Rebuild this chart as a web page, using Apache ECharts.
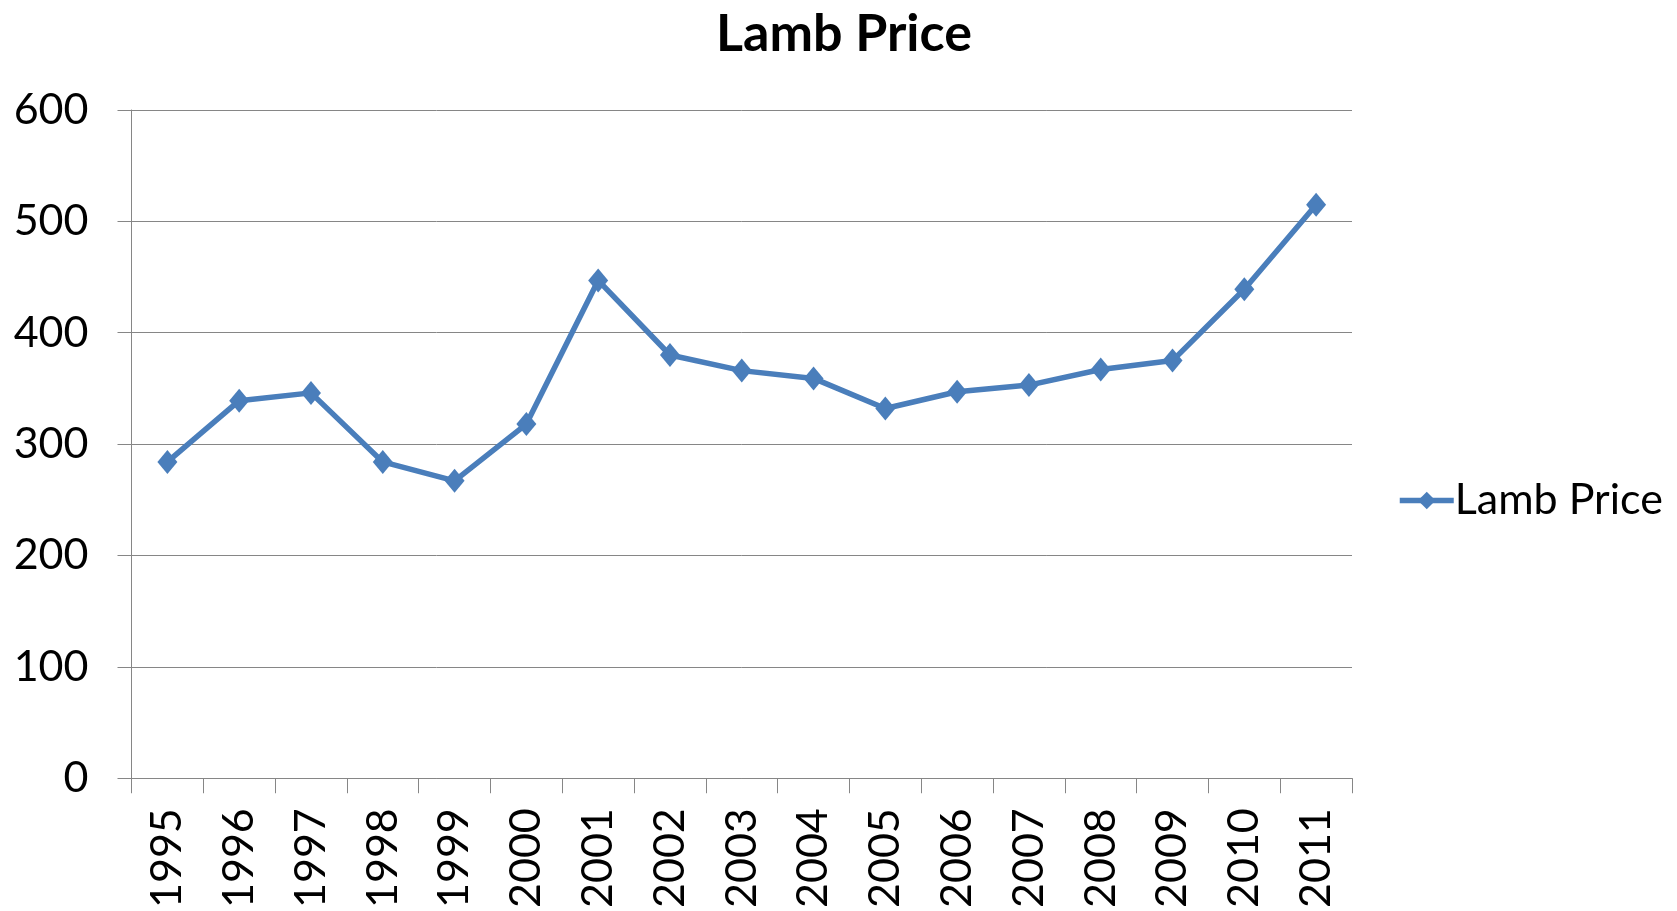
<!DOCTYPE html>
<html>
<head>
<meta charset="utf-8">
<title>Lamb Price</title>
<script src="https://cdn.jsdelivr.net/npm/echarts@6/dist/echarts.min.js"></script>
<style>
  html, body { margin: 0; padding: 0; background: #fff; }
  #chart { width: 1677px; height: 911px; }
</style>
</head>
<body>
<div id="chart"></div>
<script>
// data
const years = ['1995', '1996', '1997', '1998', '1999', '2000', '2001', '2002', '2003',
  '2004', '2005', '2006', '2007', '2008', '2009', '2010', '2011']
const lambPrice = [284, 339, 346, 284, 267, 318, 447, 380, 366,
  359, 332, 347, 353, 367, 375, 439, 515]
const yTicks = { min: 0, max: 600, interval: 100 }

const fontFamily = 'Lato, "Open Sans", sans-serif'
const gray = '#868686'
const blue = '#4a7ebb'

const chart = echarts.init(document.getElementById('chart'))
chart.setOption({
  animation: false,
  textStyle: { fontFamily: fontFamily, color: '#000' },
  title: {
    text: 'Lamb Price',
    left: 839,
    top: 3,
    textAlign: 'center',
    textStyle: { fontSize: 52, fontWeight: 'bold', color: '#000', fontFamily: fontFamily }
  },
  legend: {
    left: 1392,
    top: 474,
    itemWidth: 54,
    itemHeight: 22,
    itemGap: 0,
    lineStyle: { width: 5.5 },
    textStyle: { fontSize: 43, color: '#000', fontFamily: fontFamily, padding: [0, 0, 0, -4] },
    data: ['Lamb Price']
  },
  grid: {
    left: 131.5,
    right: 325,
    top: 110,
    bottom: 128
  },
  xAxis: {
    type: 'category',
    data: years,
    boundaryGap: true,
    axisLine: { lineStyle: { color: gray, width: 1 } },
    axisTick: { show: true, length: 15, alignWithLabel: false, interval: 0, lineStyle: { color: gray } },
    axisLabel: { rotate: 90, margin: 30, interval: 0, fontSize: 43, color: '#000', fontFamily: fontFamily },
    splitLine: { show: false }
  },
  yAxis: {
    type: 'value',
    min: yTicks.min,
    max: yTicks.max,
    interval: yTicks.interval,
    axisLine: { show: true, lineStyle: { color: gray, width: 1 } },
    axisTick: { show: true, length: 14, lineStyle: { color: gray } },
    axisLabel: { margin: 43, fontSize: 43, color: '#000', fontFamily: fontFamily },
    splitLine: { show: true, lineStyle: { color: gray, width: 1 } }
  },
  series: [
    {
      name: 'Lamb Price',
      type: 'line',
      data: lambPrice,
      symbol: 'diamond',
      symbolSize: [20, 24],
      showAllSymbol: true,
      lineStyle: { color: blue, width: 5.5 },
      itemStyle: { color: blue, borderWidth: 0 }
    }
  ]
})
</script>
</body>
</html>
